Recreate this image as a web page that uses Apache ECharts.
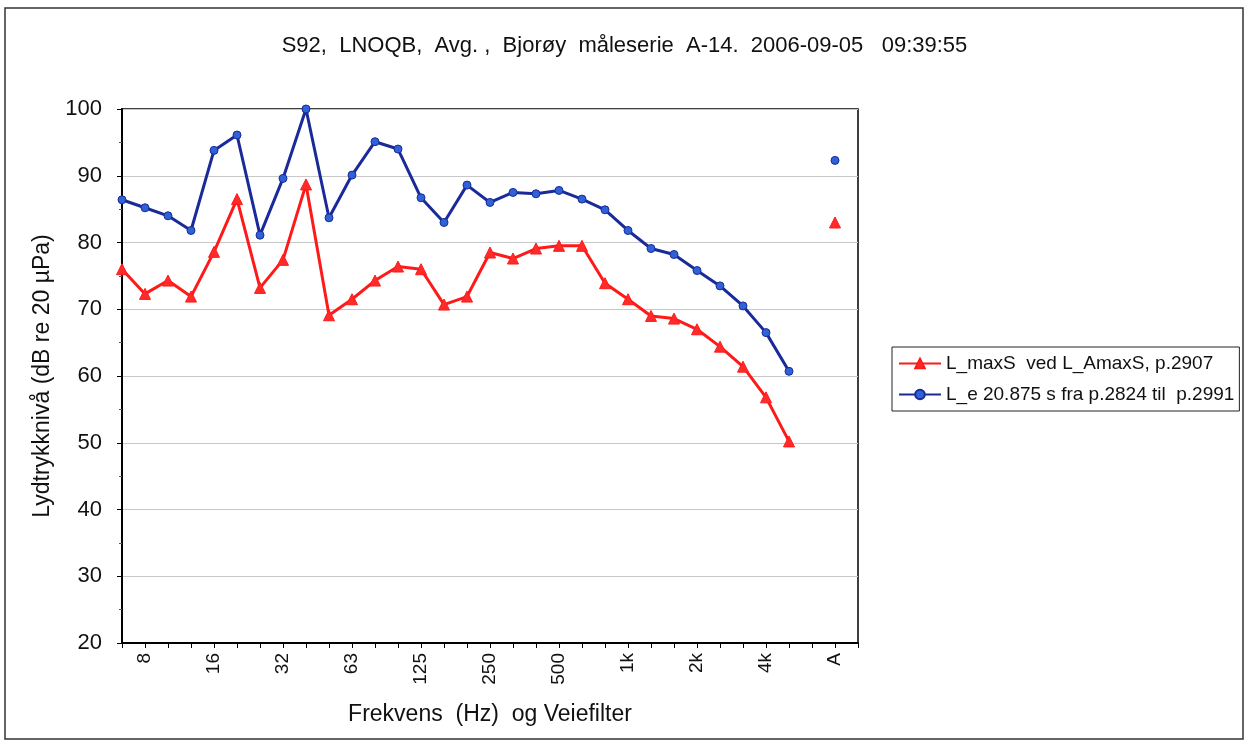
<!DOCTYPE html>
<html>
<head>
<meta charset="utf-8">
<script src="https://cdn.jsdelivr.net/npm/echarts@6/dist/echarts.min.js"></script>
<style>
html,body{margin:0;padding:0;background:#fff;}
#main{width:1249px;height:741px;}
</style>
</head>
<body>
<div id="main"></div>
<script>
// 1/3-oktav band + veiefilter
var bands = ['6.3','8','10','12.5','16','20','25','32','40','50','63','80','100','125','160','200','250','315','400','500','630','800','1k','1.25k','1.6k','2k','2.5k','3.15k','4k','5k','6.3k','A','C'];

var lMaxS = [76.0, 72.3, 74.3, 71.9, 78.6, 86.5, 73.2, 77.4, 88.7, 69.1, 71.5, 74.3, 76.4, 76.0, 70.7, 71.9, 78.5, 77.6, 79.1, 79.5, 79.5, 73.9, 71.5, 69.0, 68.6, 67.0, 64.4, 61.4, 56.8, 50.2, null, 83.0, null];
var lE = [86.4, 85.2, 84.0, 81.8, 93.8, 96.1, 81.1, 89.6, 100.0, 83.7, 90.1, 95.1, 94.0, 86.7, 83.0, 88.6, 86.0, 87.5, 87.3, 87.8, 86.5, 84.9, 81.8, 79.1, 78.2, 75.8, 73.5, 70.5, 66.5, 60.7, null, 92.3, null];

var yTicks = [20, 30, 40, 50, 60, 70, 80, 90, 100];

var font = 'Liberation Sans, Arial, sans-serif';
var myChart = echarts.init(document.getElementById('main'));

var option = {
    backgroundColor: '#fff',
    animation: false,
    title: {
        text: 'S92,  LNOQB,  Avg. ,  Bjorøy  måleserie  A-14.  2006-09-05   09:39:55',
        left: 'center',
        top: 30,
        textStyle: {fontFamily: font, fontSize: 22, fontWeight: 'normal', color: '#111'}
    },
    graphic: [{
        type: 'rect',
        shape: {x: 5, y: 8, width: 1238, height: 731},
        style: {fill: 'none', stroke: '#333', lineWidth: 1.5},
        silent: true
    }],
    legend: {
        orient: 'vertical',
        left: 892,
        top: 347,
        padding: [7, 5, 7, 6],
        itemGap: 12,
        itemWidth: 42,
        itemHeight: 12,
        borderColor: '#222',
        borderWidth: 1,
        textStyle: {fontFamily: font, fontSize: 19, color: '#111'},
        data: ['L_maxS  ved L_AmaxS, p.2907', 'L_e 20.875 s fra p.2824 til  p.2991']
    },
    grid: {
        left: 122,
        right: 391,
        top: 109,
        bottom: 98,
        show: true,
        borderColor: '#000',
        borderWidth: 1.5,
        backgroundColor: 'transparent'
    },
    xAxis: {
        type: 'category',
        data: bands,
        boundaryGap: false,
        name: 'Frekvens  (Hz)  og Veiefilter',
        nameLocation: 'middle',
        nameGap: 60,
        nameTextStyle: {fontFamily: font, fontSize: 23, color: '#111'},
        axisLine: {lineStyle: {color: '#000', width: 2}},
        axisTick: {show: true, interval: 0, length: 5, lineStyle: {color: '#000'}},
        axisLabel: {
            interval: function (i) { return i % 3 === 1; },
            rotate: 90,
            margin: 10,
            fontFamily: font,
            fontSize: 19,
            color: '#111'
        },
        splitLine: {show: false}
    },
    yAxis: {
        type: 'value',
        min: 20,
        max: 100,
        interval: 10,
        name: 'Lydtrykknivå (dB re 20 µPa)',
        nameLocation: 'middle',
        nameGap: 60,
        nameTextStyle: {fontFamily: font, fontSize: 23, color: '#111'},
        axisLine: {show: true, lineStyle: {color: '#000', width: 2}},
        axisTick: {show: true, length: 5, lineStyle: {color: '#000'}},
        minorTick: {show: true, splitNumber: 2, length: 3, lineStyle: {color: '#555'}},
        axisLabel: {
            margin: 20,
            fontFamily: font,
            fontSize: 22,
            color: '#111',
            formatter: function (v) { return yTicks.indexOf(v) >= 0 ? String(v) : ''; }
        },
        splitLine: {lineStyle: {color: '#c8c8c8', width: 1}}
    },
    series: [
        {
            name: 'L_maxS  ved L_AmaxS, p.2907',
            type: 'line',
            data: lMaxS,
            symbol: 'triangle',
            symbolSize: 11,
            showAllSymbol: true,
            lineStyle: {color: '#ff1a1a', width: 3},
            itemStyle: {color: '#ff2a2a', borderColor: '#ff1a1a', borderWidth: 1}
        },
        {
            name: 'L_e 20.875 s fra p.2824 til  p.2991',
            type: 'line',
            data: lE,
            symbol: 'circle',
            symbolSize: 8,
            showAllSymbol: true,
            lineStyle: {color: '#1a2a98', width: 3},
            itemStyle: {color: '#2f62d6', borderColor: '#1a2a98', borderWidth: 1}
        }
    ]
};

myChart.setOption(option);
</script>
</body>
</html>
